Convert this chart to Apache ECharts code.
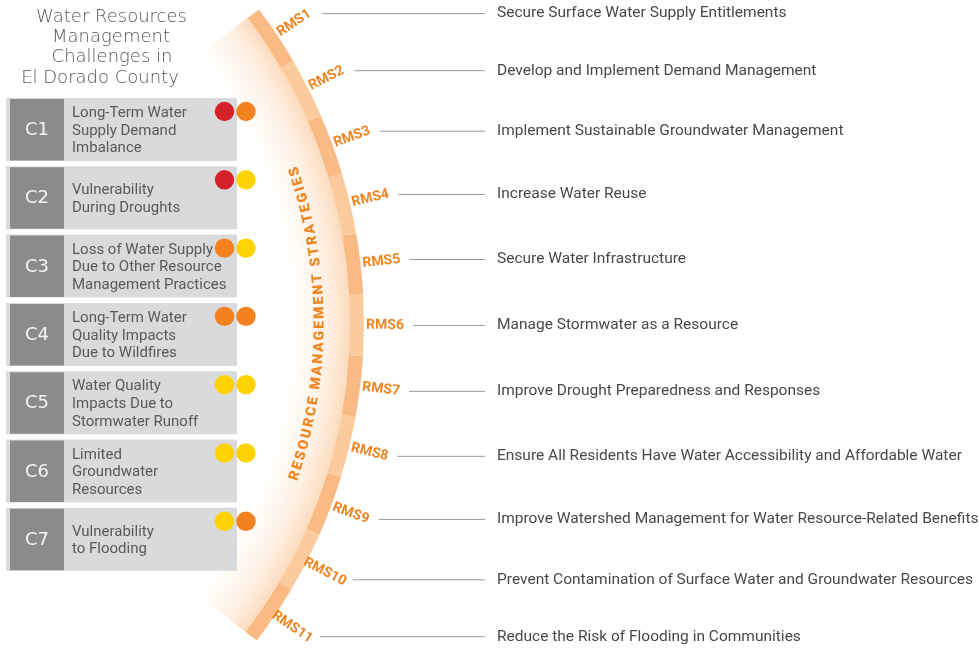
<!DOCTYPE html>
<html><head><meta charset="utf-8">
<script src="https://cdn.jsdelivr.net/npm/echarts@6/dist/echarts.min.js"></script>
<style>html,body{margin:0;padding:0;background:#fff}#c{width:979px;height:648px}</style>
</head><body><div id="c"></div>
<script>
// ---------- data ----------
const titleLines = ['Water Resources', 'Management', 'Challenges in', 'El Dorado County'];
const challengeCodes = ['C1', 'C2', 'C3', 'C4', 'C5', 'C6', 'C7'];
const challengeLabels = [
  'Long-Term Water\nSupply Demand\nImbalance',
  'Vulnerability\nDuring Droughts',
  'Loss of Water Supply\nDue to Other Resource\nManagement Practices',
  'Long-Term Water\nQuality Impacts\nDue to Wildfires',
  'Water Quality\nImpacts Due to\nStormwater Runoff',
  'Limited\nGroundwater\nResources',
  'Vulnerability\nto Flooding'
];
const ratingA = ['high', 'high', 'medium', 'medium', 'low', 'low', 'low'];
const ratingB = ['medium', 'low', 'low', 'medium', 'low', 'low', 'medium'];
const arcTitle = 'RESOURCE MANAGEMENT STRATEGIES';
const strategyCodes = ['RMS1','RMS2','RMS3','RMS4','RMS5','RMS6','RMS7','RMS8','RMS9','RMS10','RMS11'];
const strategyLabels = [
  'Secure Surface Water Supply Entitlements',
  'Develop and Implement Demand Management',
  'Implement Sustainable Groundwater Management',
  'Increase Water Reuse',
  'Secure Water Infrastructure',
  'Manage Stormwater as a Resource',
  'Improve Drought Preparedness and Responses',
  'Ensure All Residents Have Water Accessibility and Affordable Water',
  'Improve Watershed Management for Water Resource-Related Benefits',
  'Prevent Contamination of Surface Water and Groundwater Resources',
  'Reduce the Risk of Flooding in Communities'
];

// ---------- layout / style ----------
const RATING_COLOR = { high: '#d4222b', medium: '#f4811f', low: '#ffd200' };
const ORANGE = '#ee8520';
const BAND_DARK = '#f9ba83';
const BAND_LIGHT = '#fbcb9e';
const POLAR_CX = -158, POLAR_CY = 323.5;
const ANG_FIRST = -33.6, ANG_LAST = 34.0;
const ANG_STEP = (ANG_LAST - ANG_FIRST) / (strategyCodes.length - 1);
const D2R = Math.PI / 180;
const BAND_R0 = 508, BAND_R1 = 522, LABEL_R = 543, LINE_R = 560, TEXT_R = 478;

const measureCtx = document.createElement('canvas').getContext('2d');

function renderGlow(params, api) {
  const cs = params.coordSys;
  const half = ANG_STEP / 2;
  const a0 = (ANG_FIRST - half) * D2R, a1 = (ANG_LAST + half) * D2R;
  return {
    type: 'sector',
    shape: { cx: cs.cx, cy: cs.cy, r0: 440, r: BAND_R0 + 1, startAngle: a0, endAngle: a1, clockwise: true },
    style: {
      fill: new echarts.graphic.RadialGradient(cs.cx, cs.cy, BAND_R0 + 1, [
        { offset: 0.88, color: 'rgba(253,228,206,0)' },
        { offset: 0.955, color: 'rgba(253,224,198,0.5)' },
        { offset: 1, color: 'rgba(252,214,180,0.9)' }
      ], true)
    }
  };
}

function renderStrategy(params, api) {
  const i = params.dataIndex;
  const cs = params.coordSys;
  const ang = api.value(1);
  const half = ANG_STEP / 2;
  const lab = api.coord([LABEL_R, ang]);
  const ln = api.coord([LINE_R, ang]);
  const x0 = lab[0] + 28;
  return {
    type: 'group',
    children: [
      {
        type: 'sector',
        shape: { cx: cs.cx, cy: cs.cy, r0: BAND_R0, r: BAND_R1, startAngle: (ang - half) * D2R, endAngle: (ang + half) * D2R, clockwise: true },
        style: { fill: i % 2 === 0 ? BAND_DARK : BAND_LIGHT }
      },
      {
        type: 'text', x: lab[0], y: lab[1], rotation: -ang * D2R,
        style: { text: strategyCodes[i], fill: ORANGE, fontSize: 14, fontWeight: 'bold', fontFamily: 'Roboto', align: 'center', verticalAlign: 'middle' }
      },
      {
        type: 'line', shape: { x1: x0, y1: ln[1], x2: 485, y2: ln[1] },
        style: { stroke: '#9b9b9b', lineWidth: 1 }
      },
      {
        type: 'text', x: 497, y: ln[1],
        style: { text: strategyLabels[i], fill: '#48484a', fontSize: 15.5, fontFamily: 'Roboto', align: 'left', verticalAlign: 'middle' }
      }
    ]
  };
}

function renderArcTitle(params, api) {
  const centerAng = api.value(1);
  const r = api.value(0);
  const font = '900 14px Roboto';
  measureCtx.font = font;
  const chars = arcTitle.split('');
  const widths = chars.map(ch => measureCtx.measureText(ch).width);
  const totalLen = 319;
  const sumW = widths.reduce((a, b) => a + b, 0);
  const gap = (totalLen - sumW) / (chars.length - 1);
  const startAng = centerAng * D2R + (totalLen / 2) / r;
  let s = 0;
  const children = [];
  chars.forEach((ch, k) => {
    const sc = s + widths[k] / 2;
    const a = startAng - sc / r; // radians, screen clockwise
    s += widths[k] + gap;
    if (ch === ' ') return;
    const p = api.coord([r, a / D2R]);
    children.push({
      type: 'text', x: p[0], y: p[1], rotation: Math.PI / 2 - a,
      style: { text: ch, fill: ORANGE, fontSize: 14, fontWeight: 900, fontFamily: 'Roboto', align: 'center', verticalAlign: 'middle' }
    });
  });
  return { type: 'group', children };
}

function renderChallenge(params, api) {
  const i = params.dataIndex;
  const c = api.coord([0, api.value(1)]);
  const x = c[0], yc = c[1];
  const h = 63;
  const top = yc - h / 2;
  return {
    type: 'group',
    children: [
      { type: 'rect', shape: { x: x, y: top, width: 231, height: h }, style: { fill: '#d9dadb' } },
      { type: 'rect', shape: { x: x + 4, y: top + 1, width: 54, height: h - 1.5 }, style: { fill: '#8b8b8d' } },
      { type: 'text', x: x + 31, y: yc + 1,
        style: { text: challengeCodes[i], fill: '#f4f4f4', fontSize: 18, fontFamily: 'DejaVu Sans', align: 'center', verticalAlign: 'middle' } },
      { type: 'text', x: x + 66, y: yc + 1.5,
        style: { text: challengeLabels[i], fill: '#58595b', fontSize: 15, lineHeight: 17.6, fontFamily: 'Roboto', align: 'left', verticalAlign: 'middle' } },
      { type: 'circle', shape: { cx: x + 218.5, cy: yc - 18, r: 9.7 }, style: { fill: RATING_COLOR[ratingA[i]] } },
      { type: 'circle', shape: { cx: x + 240, cy: yc - 18, r: 9.7 }, style: { fill: RATING_COLOR[ratingB[i]] } }
    ]
  };
}

const titleCenters = [111.5, 111, 112, 100];
const chart = echarts.init(document.getElementById('c'));
chart.setOption({
  animation: false,
  backgroundColor: '#ffffff',
  polar: { center: [POLAR_CX, POLAR_CY], radius: [0, 700] },
  angleAxis: { type: 'value', min: -180, max: 180, startAngle: 180, clockwise: true, show: false },
  radiusAxis: { type: 'value', min: 0, max: 700, show: false },
  grid: { left: 6, top: 95.35, width: 250, height: 478.1, show: false },
  xAxis: { type: 'value', min: 0, max: 250, show: false },
  yAxis: { type: 'category', data: challengeCodes, inverse: true, show: false },
  graphic: titleLines.map((t, k) => ({
    type: 'text', x: titleCenters[k], y: 17 + k * 20.4,
    style: { text: t, fill: '#555558', fontSize: 18, fontWeight: 200, fontFamily: 'DejaVu Sans', align: 'center', verticalAlign: 'middle' }
  })),
  series: [
    { type: 'custom', coordinateSystem: 'polar', clip: false, silent: true,
      data: [[BAND_R0, 0]], renderItem: renderGlow },
    { type: 'custom', coordinateSystem: 'polar', clip: false, silent: true,
      data: strategyCodes.map((c, i) => [BAND_R0, ANG_FIRST + i * ANG_STEP]), renderItem: renderStrategy },
    { type: 'custom', coordinateSystem: 'polar', clip: false, silent: true,
      data: [[TEXT_R, 0]], renderItem: renderArcTitle },
    { type: 'custom', coordinateSystem: 'cartesian2d', clip: false, silent: true,
      data: challengeCodes.map((c, i) => [0, i]), renderItem: renderChallenge }
  ]
});
</script>
</body></html>
